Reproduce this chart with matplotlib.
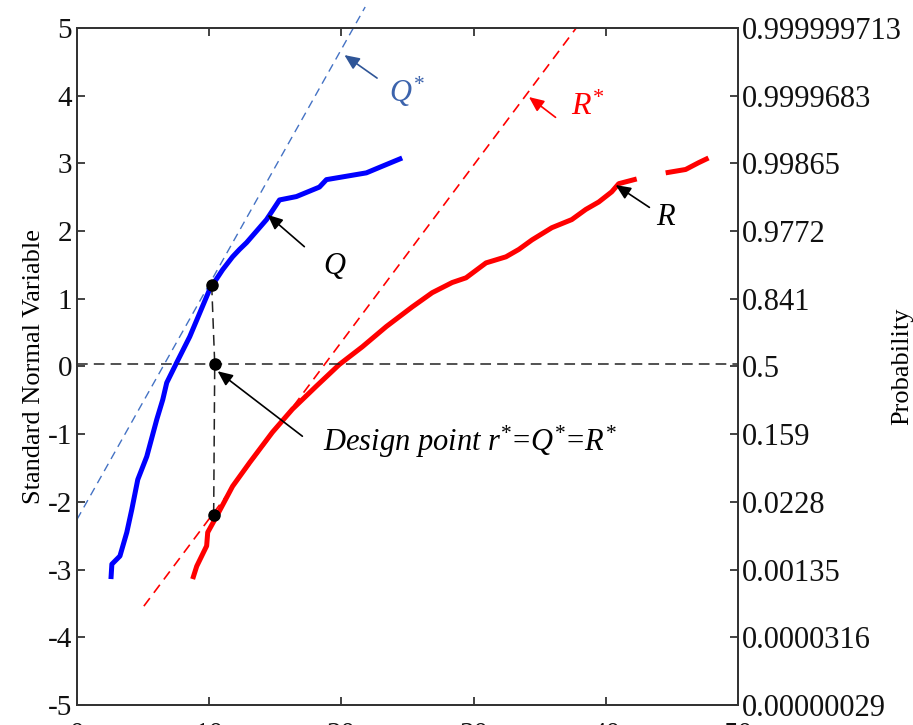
import numpy as np
import matplotlib
matplotlib.use('Agg')
import matplotlib.pyplot as plt

plt.rcParams['font.family'] = 'Liberation Serif'
plt.rcParams['mathtext.fontset'] = 'custom'
plt.rcParams['mathtext.rm'] = 'Liberation Serif'
plt.rcParams['mathtext.it'] = 'Liberation Serif:italic'
plt.rcParams['axes.unicode_minus'] = False

# empirical curves on normal probability scale
q_x = [2.57, 2.64, 3.25, 3.77, 4.15, 4.60, 5.28, 6.04, 6.49, 6.79, 7.55, 8.53,
       10.04, 11.02, 11.77, 12.30, 12.83, 14.34, 15.32, 16.60, 18.34, 18.87,
       21.89, 22.87, 24.60]
q_y = [-3.14, -2.92, -2.80, -2.45, -2.11, -1.67, -1.33, -0.78, -0.49, -0.24,
       0.06, 0.44, 1.14, 1.43, 1.62, 1.73, 1.83, 2.17, 2.46, 2.51, 2.65, 2.76,
       2.86, 2.94, 3.08]

r_x = [8.75, 9.06, 9.81, 9.89, 10.57, 11.77, 13.06, 14.79, 16.30, 18.11,
       19.85, 21.58, 23.40, 25.36, 26.87, 28.38, 29.43, 30.94, 32.45, 33.43,
       34.42, 35.92, 37.43, 38.49, 39.47, 40.45, 40.98, 42.34, np.nan,
       44.53, 46.04, 47.02, 47.77]
r_y = [-3.14, -2.95, -2.65, -2.45, -2.21, -1.77, -1.42, -0.97, -0.63, -0.29,
       0.03, 0.29, 0.59, 0.88, 1.09, 1.24, 1.31, 1.53, 1.62, 1.73,
       1.87, 2.05, 2.17, 2.32, 2.43, 2.58, 2.70, 2.77, np.nan,
       2.86, 2.91, 3.01, 3.08]

# fitted normal lines
qs_x = [0.0, 21.8]
qs_y = [-2.26, 5.31]
rs_x = [5.06, 37.8]
rs_y = [-3.54, 5.01]

# design point construction
dp_x = [10.19, 10.42, 10.34]
dp_y = [1.21, 0.04, -2.20]

y_ticks = [-5, -4, -3, -2, -1, 0, 1, 2, 3, 4, 5]
prob_labels = ['0.00000029', '0.0000316', '0.00135', '0.0228', '0.159', '0.5',
               '0.841', '0.9772', '0.99865', '0.9999683', '0.999999713']
x_ticks = [0, 10, 20, 30, 40, 50]

fig = plt.figure(figsize=(9.13, 7.25), dpi=100)
ax = fig.add_axes([0.0843, 0.0276, 0.7240, 0.9338])

ax.plot(qs_x, qs_y, ls=(0, (6, 4)), color='#4472c4', lw=1.0, clip_on=False)
ax.plot(rs_x, rs_y, ls=(0, (6, 4)), color='red', lw=1.2, clip_on=False)
ax.plot(q_x, q_y, color='#0000ff', lw=3.6, solid_capstyle='butt')
ax.plot(r_x, r_y, color='#ff0000', lw=3.6, solid_capstyle='butt')

ax.axhline(dp_y[1], color='#222222', ls=(0, (7, 4)), lw=1.1)
ax.plot(dp_x, dp_y, color='#222222', ls=(0, (7, 4)), lw=1.1)
ax.plot(dp_x, dp_y, 'o', color='k', ms=8, ls='')

ax.set_xlim(0, 50)
ax.set_ylim(-5, 5)
ax.set_xticks(x_ticks)
ax.set_yticks(y_ticks)
ax.tick_params(direction='in', length=6, width=1.2, labelsize=21,
               top=True, colors='#222222', labelcolor='#111111')
ax.tick_params(axis='x', pad=12)
ax.set_ylabel('Standard Normal Variable', fontsize=19, labelpad=2)
for s in ax.spines.values():
    s.set_linewidth(1.3)
    s.set_color('#333333')

ax2 = ax.twinx()
ax2.set_ylim(-5, 5)
ax2.set_yticks(y_ticks)
ax2.set_yticklabels(prob_labels)
ax2.tick_params(direction='in', length=6, width=1.2, labelsize=22,
                colors='#222222', labelcolor='#111111', pad=3)
ax2.set_ylabel('Probability', fontsize=19, rotation=90,
               ha='center', va='center')
ax2.yaxis.set_label_coords(1.248, 0.5)
for s in ax2.spines.values():
    s.set_linewidth(1.3)
    s.set_color('#333333')

arr = dict(arrowstyle='-|>,head_length=0.9,head_width=0.4', lw=1.2,
           shrinkA=0, shrinkB=0)
ax.annotate('', xy=(20.23, 4.60), xytext=(22.7, 4.26),
            arrowprops=dict(arr, color='#2f5597'))
ax.text(23.6, 4.05, r'$Q^{*}$', color='#3c63ac', fontsize=22,
        ha='left', va='center')
ax.annotate('', xy=(14.42, 2.24), xytext=(17.2, 1.77),
            arrowprops=dict(arr, color='k'))
ax.text(18.6, 1.48, r'$Q$', color='k', fontsize=22, ha='left', va='center')
ax.annotate('', xy=(34.19, 3.98), xytext=(36.2, 3.68),
            arrowprops=dict(arr, color='red'))
ax.text(37.4, 3.83, r'$R^{*}$', color='red', fontsize=23,
        ha='left', va='center')
ax.annotate('', xy=(40.75, 2.68), xytext=(43.3, 2.35),
            arrowprops=dict(arr, color='k'))
ax.text(43.8, 2.20, r'$R$', color='k', fontsize=22, ha='left', va='center')
ax.annotate('', xy=(10.64, -0.07), xytext=(17.05, -1.03),
            arrowprops=dict(arr, color='k'))
ax.text(18.6, -1.12, r'$Design\ point\ r^{*}\!=\!Q^{*}\!=\!R^{*}$',
        color='k', fontsize=22, ha='left', va='center')

fig.savefig('out.png', dpi=100)
